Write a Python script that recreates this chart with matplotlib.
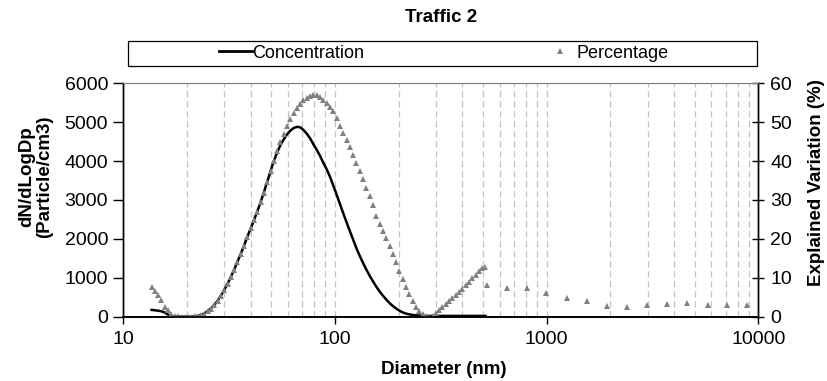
import matplotlib
matplotlib.use("Agg")
import matplotlib.pyplot as plt
from matplotlib.lines import Line2D
from matplotlib.patches import Rectangle
from matplotlib.ticker import FixedLocator, LogLocator, NullFormatter

plt.rcParams['font.family'] = ['Liberation Sans', 'DejaVu Sans']

# ---------------- data ----------------
title = "Traffic 2"
diam_smps = [13.6, 14.1, 14.6, 15.1, 15.7, 16.3, 16.8, 17.5, 18.1, 18.8,
             19.5, 20.2, 20.9, 21.7, 22.5, 23.3, 24.1, 25.0, 25.9, 26.9,
             27.9, 28.9, 30.0, 31.1, 32.2, 33.4, 34.6, 35.9, 37.2, 38.5,
             40.0, 41.4, 42.9, 44.5, 46.1, 47.8, 49.6, 51.4, 53.3, 55.2,
             57.3, 59.4, 61.5, 63.8, 66.1, 68.5, 71.0, 73.7, 76.4, 79.1,
             82.0, 85.1, 88.2, 91.4, 94.7, 98.2, 101.8, 105.5, 109.4, 113.4,
             117.6, 121.9, 126.3, 131.0, 135.8, 140.7, 145.9, 151.2, 156.8, 162.5,
             168.5, 174.7, 181.1, 187.7, 194.6, 201.7, 209.1, 216.7, 224.7, 232.9,
             241.4, 250.3, 259.5, 269.0, 278.8, 289.0, 299.6, 310.6, 322.0, 333.8,
             346.0, 358.7, 371.8, 385.4, 399.5, 414.2, 429.4, 445.1, 461.4, 478.3,
             495.8, 514.0]
concentration = [175, 165, 155, 140, 110, 50, 15, 5, 0, 0,
                 0, 0, 0, 5, 20, 40, 80, 140, 210, 300,
                 410, 540, 690, 850, 1020, 1210, 1410, 1620, 1830, 2050,
                 2270, 2480, 2700, 2940, 3190, 3460, 3740, 4000, 4220, 4410,
                 4560, 4690, 4780, 4850, 4880, 4870, 4800, 4700, 4580, 4430,
                 4290, 4130, 3950, 3790, 3600, 3370, 3140, 2900, 2660, 2430,
                 2200, 1980, 1760, 1560, 1380, 1210, 1050, 910, 770, 650,
                 540, 440, 350, 275, 210, 155, 110, 80, 60, 45,
                 35, 30, 25, 20, 20, 20, 20, 20, 20, 20,
                 20, 20, 20, 20, 20, 20, 20, 20, 20, 20,
                 20, 20]
percentage_smps = [7.7, 6.6, 5.6, 4.2, 2.6, 1.6, 0.8, 0.2, 0.1, 0.0,
                   0.0, 0.0, 0.0, 0.1, 0.2, 0.4, 0.8, 1.4, 2.1, 3.0,
                   4.1, 5.4, 6.9, 8.5, 10.2, 12.1, 14.1, 16.2, 18.3, 20.5,
                   22.7, 24.8, 27.0, 29.4, 31.9, 34.6, 37.4, 40.0, 42.5, 44.8,
                   46.9, 48.9, 50.7, 52.3, 53.6, 54.7, 55.6, 56.3, 56.8, 57.0,
                   56.9, 56.5, 55.8, 55.0, 54.0, 52.8, 51.1, 49.1, 47.3, 45.5,
                   43.6, 41.6, 39.5, 37.5, 35.5, 33.1, 31.0, 28.6, 25.8, 23.8,
                   22.0, 20.2, 18.2, 16.1, 14.0, 11.8, 9.7, 7.7, 5.8, 4.1,
                   2.6, 1.4, 0.6, 0.1, 0.0, 0.3, 1.0, 1.8, 2.6, 3.3,
                   4.0, 4.8, 5.6, 6.4, 7.2, 8.1, 9.0, 9.9, 10.8, 11.7,
                   12.5, 12.9]
diam_aps = [523, 648, 805, 992, 1242, 1543, 1929, 2396, 2976, 3698, 4613, 5768, 7136, 8866]
percentage_aps = [8.2, 7.5, 7.3, 6.0, 4.7, 4.0, 2.8, 2.5, 3.0, 3.2, 3.4, 3.0, 3.0, 3.0]
x_ticks = [10, 100, 1000, 10000]
x_ticklabels = ["10", "100", "1000", "10000"]
y_left_ticks = [0, 1000, 2000, 3000, 4000, 5000, 6000]
y_right_ticks = [0, 10, 20, 30, 40, 50, 60]

FS_TICK = 14
FS_LAB = 13.5
FS_LEG = 13
GRAY = "#808080"

fig = plt.figure(figsize=(8.28, 3.81), dpi=100)
ax = fig.add_axes([123.3 / 828, 1 - 316.7 / 381, 635 / 828, 233.4 / 381])
ax2 = ax.twinx()

ax.set_xscale('log')
ax.set_xlim(10, 10000)
ax.set_ylim(0, 6000)
ax2.set_ylim(0, 60)

ax.xaxis.set_major_locator(FixedLocator(x_ticks))
ax.xaxis.set_minor_locator(LogLocator(base=10, subs=range(2, 10)))
ax.set_axisbelow(True)
ax.grid(True, which='both', axis='x', color='#c4c4c4', linestyle=(0, (5, 3)), linewidth=0.9)

ax.plot(diam_smps, concentration, color='black', linewidth=1.8)
ax2.plot(diam_smps, percentage_smps, linestyle='none', marker='^', color=GRAY,
         markersize=5, markeredgewidth=0)
ax2.plot(diam_aps, percentage_aps, linestyle='none', marker='^', color=GRAY,
         markersize=5, markeredgewidth=0)

# axes ticks
ax.set_xticklabels(x_ticklabels)
ax.xaxis.set_minor_formatter(NullFormatter())
ax.tick_params(axis='x', which='minor', length=0)
ax.tick_params(axis='x', which='major', direction='out', length=5, width=1, labelsize=FS_TICK, pad=5)
ax.set_yticks(y_left_ticks)
ax.tick_params(axis='y', direction='out', length=7, width=1, labelsize=FS_TICK, pad=4)
ax2.set_yticks(y_right_ticks)
ax2.tick_params(axis='y', direction='inout', length=9, width=1, labelsize=FS_TICK, pad=4)

for a in (ax, ax2):
    a.spines['top'].set_color(GRAY)
    a.spines['top'].set_linewidth(0.8)
    a.spines['left'].set_linewidth(1)
    a.spines['right'].set_linewidth(1)
    a.spines['bottom'].set_linewidth(1.2)

ax.set_xlabel("Diameter (nm)", fontsize=FS_LAB, fontweight='bold')
ax.xaxis.set_label_coords(0.505, -0.188)
ax.set_ylabel("dN/dLogDp\n(Particle/cm3)", fontsize=FS_LAB, fontweight='bold', linespacing=1.1)
ax.yaxis.set_label_coords(-0.110, 0.6)
ax2.set_ylabel("Explained Variation (%)", fontsize=FS_LAB, fontweight='bold')
ax2.yaxis.set_label_coords(1.078, 0.575)

fig.text(441 / 828, 1 - 18 / 381, title, ha='center', va='center',
         fontsize=FS_LAB, fontweight='bold')

# legend box
fig.patches.append(Rectangle((128.3 / 828, 1 - 66 / 381), (757.3 - 128.3) / 828, 25.3 / 381,
                             transform=fig.transFigure, facecolor='white',
                             edgecolor='black', linewidth=0.9))
handles = [Line2D([], [], color='black', linewidth=2),
           Line2D([], [], linestyle='none', marker='^', color=GRAY, markersize=4, markeredgewidth=0)]
fig.legend(handles, ["Concentration", "Percentage"], ncol=2, frameon=False,
           loc='center', bbox_to_anchor=(444 / 828, 1 - 53.3 / 381),
           fontsize=FS_LEG, handlelength=1.8, handletextpad=0.05, columnspacing=9.9,
           borderpad=0)

fig.savefig("out.png", dpi=100)
